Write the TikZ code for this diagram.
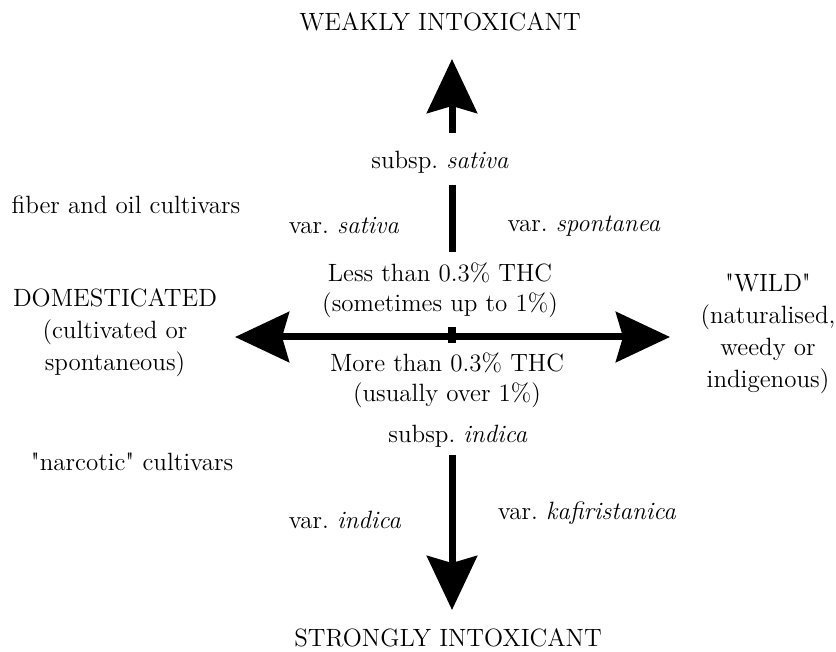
\documentclass[tikz,border=0pt]{standalone}
\usepackage{fontspec}
\newfontfamily\lmfont{Latin Modern Roman} % no TeX mapping: straight quotes
\usetikzlibrary{arrows.meta}
\frenchspacing

\begin{document}
\begin{tikzpicture}[x=.5pt, y=-.5pt,
  lbl/.style={inner sep=1pt, align=center, font=\lmfont\fontsize{12.5}{15}\selectfont},
  lbl3/.style={lbl, font=\lmfont\fontsize{12.5}{16}\selectfont},
  head/.tip={Stealth[length=27pt, width=25pt, inset=3.5pt]},
  axis/.style={line width=3.5pt, -head}]
  \useasboundingbox (0,0) rectangle (836,652);
  % poles
  \node [lbl] (weak) at (440,22) {WEAKLY INTOXICANT};
  \node [lbl] (strong) at (448,638) {STRONGLY INTOXICANT};
  \node [lbl3] (dom) at (115,333) {DOMESTICATED\\(cultivated or\\spontaneous)};
  \node [lbl3] (wild) at (768,334) {"WILD"\\(naturalised,\\weedy or\\indigenous)};
  % labels round the centre
  \node [lbl] (sspsat) at (440,162) {subsp. \textit{sativa}};
  \node [lbl] (sspind) at (458,436) {subsp. \textit{indica}};
  \node [lbl] (less) at (440,290) {Less than 0.3\% THC\\(sometimes up to 1\%)};
  \node [lbl] (more) at (447,380) {More than 0.3\% THC\\(usually over 1\%)};
  \node [lbl] (varsat) at (344,226) {var. \textit{sativa}};
  \node [lbl] (varspon) at (584,226) {var. \textit{spontanea}};
  \node [lbl] (varind) at (345,520) {var. \textit{indica}};
  \node [lbl] (varkaf) at (587,513) {var. \textit{kafiristanica}};
  \node [lbl] (fiber) at (126,205) {fiber and oil cultivars};
  \node [lbl] (narc) at (132,462) {"narcotic" cultivars};
  % axes
  \coordinate (N) at (452,59);
  \coordinate (S) at (452,610);
  \coordinate (W) at (235,337);
  \coordinate (E) at (670,337);
  \draw [axis] (452,133) -- (N);
  \draw [line width=3.5pt] (452,185) -- (452,252);
  \draw [axis] (452,455) -- (S);
  \draw [axis, head-head] (W) -- (E);
  \fill (448,327) rectangle (456,343); % tick at the centre
\end{tikzpicture}
\end{document}
